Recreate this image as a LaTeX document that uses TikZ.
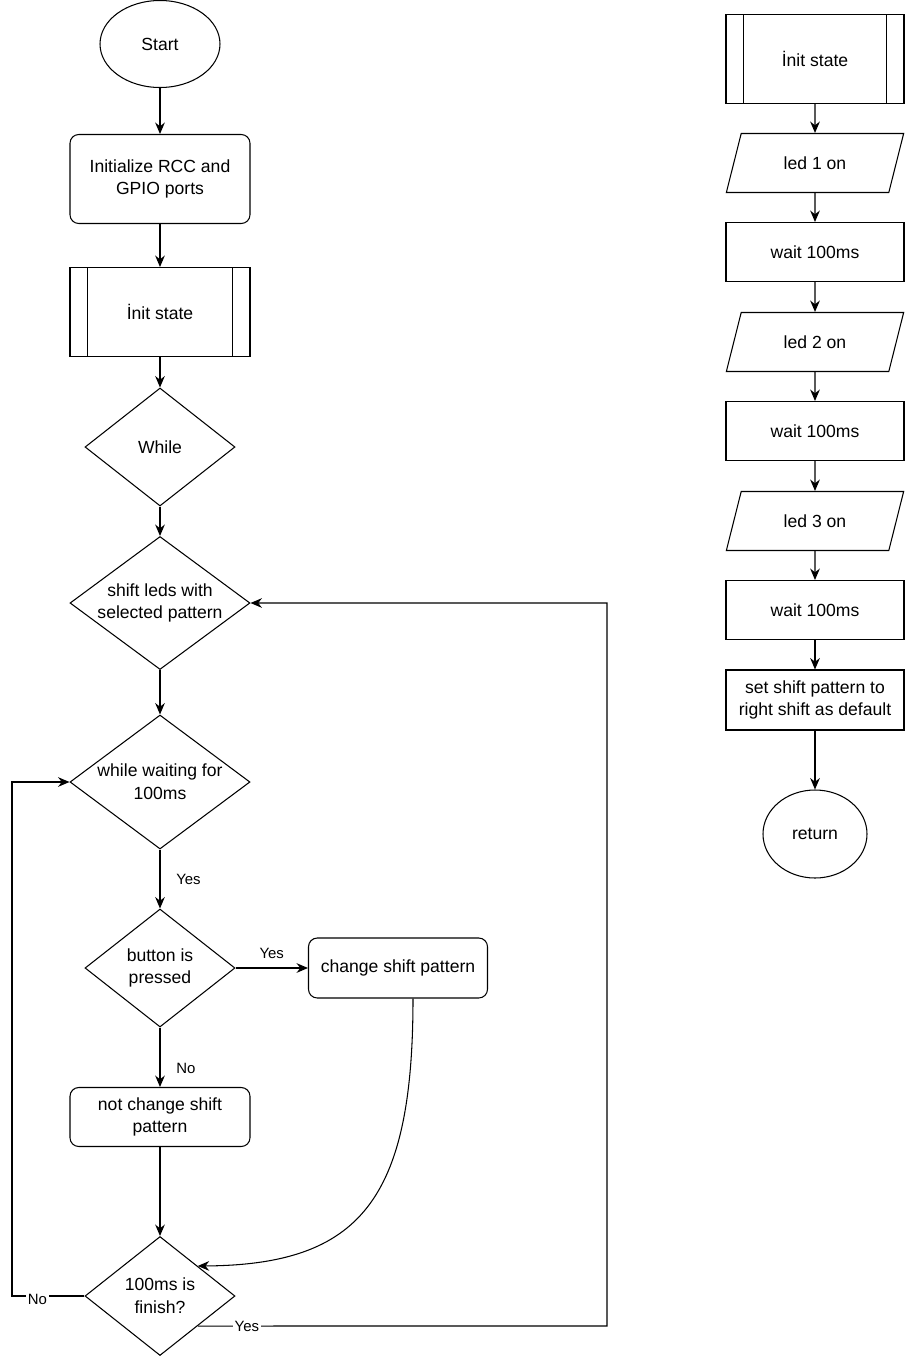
\documentclass[tikz,border=0pt]{standalone}
\usepackage{fontspec}
\setmainfont{Liberation Sans}
\usetikzlibrary{arrows.meta,shapes.geometric}

\tikzset{
  startstop/.style={ellipse, draw, inner sep=0pt},
  process/.style={rectangle, draw, align=center, inner sep=2pt, minimum width=3.560cm, minimum height=1.180cm},
  roundproc/.style={process, rounded corners=5pt, minimum width=3.600cm},
  subproc/.style={process, path picture={
      \draw ([xshift=0.350cm]path picture bounding box.north west) -- ([xshift=0.350cm]path picture bounding box.south west);
      \draw ([xshift=-0.350cm]path picture bounding box.north east) -- ([xshift=-0.350cm]path picture bounding box.south east);}},
  decision/.style={diamond, draw, inner sep=0pt},
  iobox/.style={trapezium, trapezium left angle=64, trapezium right angle=116, trapezium stretches, draw,
      inner sep=0pt, minimum width=3.560cm, minimum height=1.180cm},
  flow/.style={-{Stealth[length=6.5pt,width=5.5pt]}},
  lbl/.style={font=\fontsize{8.5}{10}\selectfont, inner sep=1pt}
}

\begin{document}
\begin{tikzpicture}[line width=0.6pt, font=\fontsize{10}{13}\selectfont]
  \useasboundingbox (0.000,0.000) rectangle (18.160,-27.160);
  \node[startstop, minimum width=2.400cm, minimum height=1.740cm] (start) at (3.200,-0.880) {Start};
  \node[roundproc, minimum height=1.780cm] (rcc) at (3.200,-3.580) {Initialize RCC and\\GPIO ports};
  \node[subproc, minimum width=3.600cm, minimum height=1.780cm] (state) at (3.200,-6.240) {İnit state};
  \node[decision, minimum width=3.000cm, minimum height=2.360cm, label={[align=center]center:While}] (loop) at (3.200,-8.940) {};
  \node[decision, minimum width=3.600cm, minimum height=2.660cm, label={[align=center]center:shift leds with\\selected pattern}] (shift) at (3.200,-12.060) {};
  \node[decision, minimum width=3.600cm, minimum height=2.680cm, label={[align=center]center:while waiting for\\100ms}] (wait) at (3.200,-15.640) {};
  \node[decision, minimum width=3.000cm, minimum height=2.360cm, label={[align=center]center:button is\\pressed}] (button) at (3.200,-19.360) {};
  \node[roundproc, minimum width=3.580cm, minimum height=1.200cm] (change) at (7.960,-19.360) {change shift pattern};
  \node[roundproc] (keep) at (3.200,-22.340) {not change shift\\pattern};
  \node[decision, minimum width=3.000cm, minimum height=2.380cm, label={[align=center]center:100ms is\\finish?}] (done) at (3.200,-25.920) {};
  \coordinate (noturn) at (0.240,-25.920);
  \coordinate (yesturn) at (12.140,-26.520);

  \node[subproc, minimum height=1.780cm] (sub) at (16.300,-1.180) {İnit state};
  \node[iobox] (led1) at (16.300,-3.260) {led 1 on};
  \node[process] (w1) at (16.300,-5.040) {wait 100ms};
  \node[iobox] (led2) at (16.300,-6.840) {led 2 on};
  \node[process] (w2) at (16.300,-8.620) {wait 100ms};
  \node[iobox] (led3) at (16.300,-10.420) {led 3 on};
  \node[process] (w3) at (16.300,-12.200) {wait 100ms};
  \node[process, minimum height=1.200cm] (deflt) at (16.300,-14.000) {set shift pattern to\\right shift as default};
  \node[startstop, minimum width=2.080cm, minimum height=1.760cm] (ret) at (16.300,-16.680) {return};

  \draw[flow] (start) -- (rcc);
  \draw[flow] (rcc) -- (state);
  \draw[flow] (state) -- (loop);
  \draw[flow] (loop) -- (shift);
  \draw[flow] (shift) -- (wait);
  \draw[flow] (wait) -- node[lbl, anchor=west, xshift=0.280cm] (yes1) {Yes} (button);
  \draw[flow] (button) -- node[lbl, above=4pt] (yes2) {Yes} (change);
  \draw[flow] (button) -- node[lbl, pos=0.68, anchor=west, xshift=0.280cm] (no1) {No} (keep);
  \draw[flow] (keep) -- (done);
  \draw[flow] ([xshift=0.300cm]change.south) .. controls (8.260,-24.000) and (7.200,-25.300) .. (done.north east);
  \draw[flow] (done.west) -- node[lbl, pos=0.65, fill=white, yshift=-2pt] (no2) {No} (noturn) |- (wait.west);
  \draw[flow] (done.south east) -- node[lbl, pos=0.12, fill=white] (yes3) {Yes} (yesturn) |- (shift.east);

  \draw[flow] (sub) -- (led1);
  \draw[flow] (led1) -- (w1);
  \draw[flow] (w1) -- (led2);
  \draw[flow] (led2) -- (w2);
  \draw[flow] (w2) -- (led3);
  \draw[flow] (led3) -- (w3);
  \draw[flow] (w3) -- (deflt);
  \draw[flow] (deflt) -- (ret);
\end{tikzpicture}
\end{document}
